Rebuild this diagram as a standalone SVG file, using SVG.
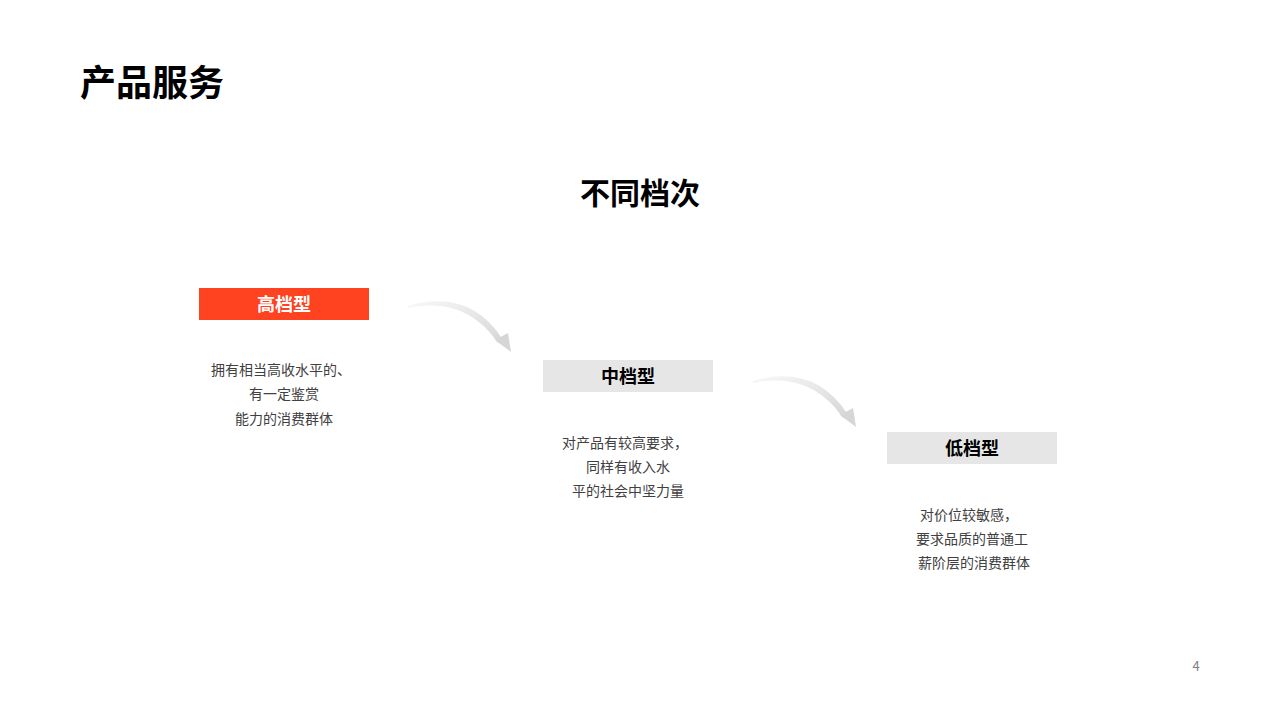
<svg xmlns="http://www.w3.org/2000/svg" width="1280" height="720" viewBox="0 0 1280 720">
<style>
text{font-family:"Noto Sans CJK SC","Noto Sans",sans-serif}
.desc{font-size:14px;fill:#404040;text-anchor:middle}
.lbl{font-size:18px;font-weight:bold;text-anchor:middle}
.gray{fill:#e6e6e6}
</style>
<defs>
<linearGradient id="ag" x1="0" y1="0" x2="1" y2="1">
<stop offset="0" stop-color="#f8f8f8"/><stop offset="1" stop-color="#d6d6d6"/>
</linearGradient>
</defs>
<rect width="1280" height="720" fill="#fff"/>
<text x="80" y="96" font-size="36" font-weight="bold" fill="#000">产品服务</text>
<text x="640" y="204" font-size="30" font-weight="bold" fill="#000" text-anchor="middle">不同档次</text>
<g id="connectors">
<path d="M408,306 Q470,288 503,340 L498,343 Q466,296 408,308 Z" fill="url(#ag)"/>
<path d="M495,340 L511,352 L508,333 Z" fill="#d6d6d6"/>
<path d="M753,381 Q815,363 848,415 L843,418 Q811,371 753,383 Z" fill="url(#ag)"/>
<path d="M840,415 L856,427 L853,408 Z" fill="#d6d6d6"/>
</g>
<g id="high">
<rect x="199" y="288" width="170" height="32" fill="#ff4320"/>
<text class="lbl" x="284" y="311" fill="#fff">高档型</text>
<text class="desc" x="281" y="375">拥有相当高收水平的、</text>
<text class="desc" x="284" y="399">有一定鉴赏</text>
<text class="desc" x="284" y="424">能力的消费群体</text>
</g>
<g id="mid">
<rect class="gray" x="543" y="360" width="170" height="32"/>
<text class="lbl" x="628" y="383" fill="#000">中档型</text>
<text class="desc" x="625" y="448">对产品有较高要求，</text>
<text class="desc" x="628" y="472">同样有收入水</text>
<text class="desc" x="628" y="496">平的社会中坚力量</text>
</g>
<g id="low">
<rect class="gray" x="887" y="432" width="170" height="32"/>
<text class="lbl" x="972" y="455" fill="#000">低档型</text>
<text class="desc" x="969" y="520">对价位较敏感，</text>
<text class="desc" x="972" y="544">要求品质的普通工</text>
<text class="desc" x="974" y="568">薪阶层的消费群体</text>
</g>
<text x="1196" y="671" font-size="13" fill="#808080" text-anchor="middle" font-family="Liberation Sans,sans-serif">4</text>
</svg>
